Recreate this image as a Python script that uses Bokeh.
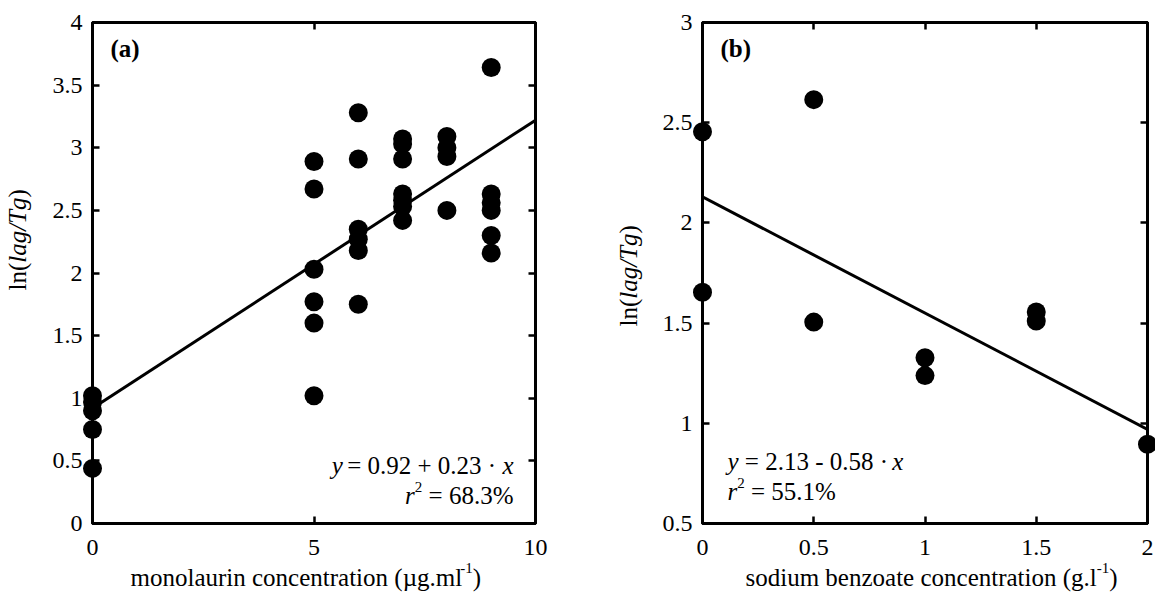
import math
from bokeh.plotting import figure
from bokeh.models import Range1d, LinearAxis, FixedTicker, CustomJSTickFormatter
from bokeh.core.properties import value
from bokeh.layouts import row
from bokeh.embed import file_html
from bokeh.resources import INLINE

# ---------------- data ----------------
conc_a = [0, 0, 0, 0, 0,
          5, 5, 5, 5, 5, 5,
          6, 6, 6, 6, 6, 6,
          7, 7, 7, 7, 7, 7, 7,
          8, 8, 8, 8,
          9, 9, 9, 9, 9, 9]
lnlag_a = [1.02, 0.97, 0.90, 0.75, 0.44,
           2.89, 2.67, 2.03, 1.77, 1.60, 1.02,
           3.28, 2.91, 2.35, 2.27, 2.18, 1.75,
           3.07, 3.03, 2.91, 2.63, 2.58, 2.53, 2.42,
           3.09, 3.00, 2.93, 2.50,
           3.64, 2.63, 2.56, 2.50, 2.30, 2.16]
fit_a = [0.92, 0.23]          # intercept, slope
r2_a = "68.3%"

conc_b = [0, 0, 0.5, 0.5, 1, 1, 1.5, 1.5, 2]
lnlag_b = [2.455, 1.654, 2.615, 1.505, 1.327, 1.238, 1.555, 1.51, 0.895]
fit_b = [2.13, -0.58]
r2_b = "55.1%"

xa_ticks = [0, 5, 10]
xa_labels = ["0", "5", "10"]
ya_ticks = [0, 0.5, 1, 1.5, 2, 2.5, 3, 3.5, 4]
ya_labels = ["0", "0.5", "1", "1.5", "2", "2.5", "3", "3.5", "4"]
xb_ticks = [0, 0.5, 1, 1.5, 2]
xb_labels = ["0", "0.5", "1", "1.5", "2"]
yb_ticks = [0.5, 1, 1.5, 2, 2.5, 3]
yb_labels = ["0.5", "1", "1.5", "2", "2.5", "3"]

xlabel_a = ["monolaurin concentration (\u00b5g.ml", "-1", ")"]
xlabel_b = ["sodium benzoate concentration (g.l", "-1", ")"]
ylabel = ["ln(", "lag/Tg", ")"]

FONT = "Liberation Serif"
NB = "\u00a0"
H = 595
FH = 501
BT = 22
BB = H - BT - FH


def style_axis(ax, ticks, labels, show_labels=True, standoff=10):
    ax.ticker = FixedTicker(ticks=ticks)
    ax.axis_line_color = "black"
    ax.axis_line_width = 3
    ax.major_tick_line_color = "black"
    ax.major_tick_line_width = 2.5
    ax.major_tick_in = 7
    ax.major_tick_out = 0
    ax.minor_tick_line_color = None
    ax.major_label_text_font = FONT
    if show_labels:
        ax.formatter = CustomJSTickFormatter(code="return String(tick);")
        ax.major_label_overrides = {t: l for t, l in zip(ticks, labels)}
        ax.major_label_text_color = "black"
        ax.major_label_text_font_size = "24px"
        ax.major_label_standoff = standoff
    else:
        ax.formatter = CustomJSTickFormatter(code="return '';")
        ax.major_label_text_color = None
        ax.major_label_text_font_size = "1px"
        ax.major_label_standoff = 0


def make_panel(width, bl, br, xr, yr, xt, xl, yt, yl):
    p = figure(width=width, height=H, x_range=Range1d(*xr), y_range=Range1d(*yr),
               output_backend="svg", toolbar_location=None, tools="",
               min_border_left=bl, min_border_right=br,
               min_border_top=BT, min_border_bottom=BB)
    p.grid.visible = False
    p.outline_line_color = "black"
    p.outline_line_width = 3
    p.background_fill_color = "white"
    p.border_fill_color = "white"
    style_axis(p.xaxis[0], xt, xl, standoff=16)
    style_axis(p.yaxis[0], yt, yl, standoff=10)
    top = LinearAxis()
    style_axis(top, xt, xl, show_labels=False)
    p.add_layout(top, "above")
    right = LinearAxis()
    style_axis(right, yt, yl, show_labels=False)
    p.add_layout(right, "right")
    fw = width - bl - br
    geo = dict(xr=xr, yr=yr, fw=fw, fh=FH)
    return p, geo


def txt(p, geo, xpx, ypx, text, size=25, style="normal", align="left",
        baseline="alphabetic", angle=0.0):
    xr, yr = geo["xr"], geo["yr"]
    x = xr[0] + xpx * (xr[1] - xr[0]) / geo["fw"]
    y = yr[0] + ypx * (yr[1] - yr[0]) / geo["fh"]
    r = p.text(x=[x], y=[y], text=[text.replace(" ", NB)],
               text_font=value(FONT), text_font_size=value(f"{size}px"),
               text_font_style=value(style), text_align=value(align),
               text_baseline=value(baseline), angle=angle, text_color="black")
    r.level = "overlay"


def draw_ylabel(p, geo, xpx, ypx, size=25):
    w0 = 1.111 * size
    w1 = 2.612 * size
    txt(p, geo, xpx, ypx, ylabel[0], size=size, angle=math.pi / 2)
    txt(p, geo, xpx, ypx + w0, ylabel[1], size=size, style="italic", angle=math.pi / 2)
    txt(p, geo, xpx, ypx + w0 + w1, ylabel[2], size=size, angle=math.pi / 2)


def draw_xlabel(p, geo, parts, xpx, ypx, main_em, size=25):
    w_main = main_em * size
    txt(p, geo, xpx, ypx, parts[0], size=size)
    txt(p, geo, xpx + w_main, ypx + 10, parts[1], size=15)
    txt(p, geo, xpx + w_main + 12.5, ypx, parts[2], size=size)


# ---------------- panel (a) ----------------
pa, ga = make_panel(598, 92, 63, (0, 10), (0, 4), xa_ticks, xa_labels, ya_ticks, ya_labels)
xa_line = [0, 10]
pa.line(xa_line, [fit_a[0] + fit_a[1] * v for v in xa_line], line_color="black", line_width=3)
ra = pa.scatter(conc_a, lnlag_a, size=19, marker="circle", fill_color="black", line_color=None)
ra.level = "overlay"

txt(pa, ga, 18, 475, "(a)", size=25, style="bold", baseline="middle")
draw_ylabel(pa, ga, -75, 233)
draw_xlabel(pa, ga, xlabel_a, 38, -54, 13.193)

eq_mid_a = f" = {fit_a[0]:.2f} + {fit_a[1]:.2f} \u00b7 "
R = 421
txt(pa, ga, R, 58, "x", style="italic", align="right")
txt(pa, ga, R - 11.1, 58, eq_mid_a, align="right")
txt(pa, ga, R - 11.1 - 159.5, 58, "y", style="italic", align="right")
txt(pa, ga, R, 28, " = " + r2_a, align="right")
txt(pa, ga, R - 91.2, 37, "2", size=15, align="right")
txt(pa, ga, R - 91.2 - 7.5, 28, "r", style="italic", align="right")

# ---------------- panel (b) ----------------
pb, gb = make_panel(557, 104, 8, (0, 2), (0.5, 3), xb_ticks, xb_labels, yb_ticks, yb_labels)
xb_line = [0, 2]
pb.line(xb_line, [fit_b[0] + fit_b[1] * v for v in xb_line], line_color="black", line_width=3)
rb = pb.scatter(conc_b, lnlag_b, size=19, marker="circle", fill_color="black", line_color=None)
rb.level = "overlay"

txt(pb, gb, 18, 475, "(b)", size=25, style="bold", baseline="middle")
draw_ylabel(pb, gb, -74, 197)
draw_xlabel(pb, gb, xlabel_b, 43, -54, 14.053)

eq_mid_b = f" = {fit_b[0]:.2f} - {abs(fit_b[1]):.2f} \u00b7 "
L = 25
txt(pb, gb, L, 62, "y", style="italic")
txt(pb, gb, L + 11.1, 62, eq_mid_b)
txt(pb, gb, L + 11.1 + 153.7, 62, "x", style="italic")
txt(pb, gb, L, 32, "r", style="italic")
txt(pb, gb, L + 9.7, 41, "2", size=15)
txt(pb, gb, L + 9.7 + 7.5, 32, " = " + r2_b)

layout = row(pa, pb)
open("out.html", "w").write(file_html(layout, INLINE))
